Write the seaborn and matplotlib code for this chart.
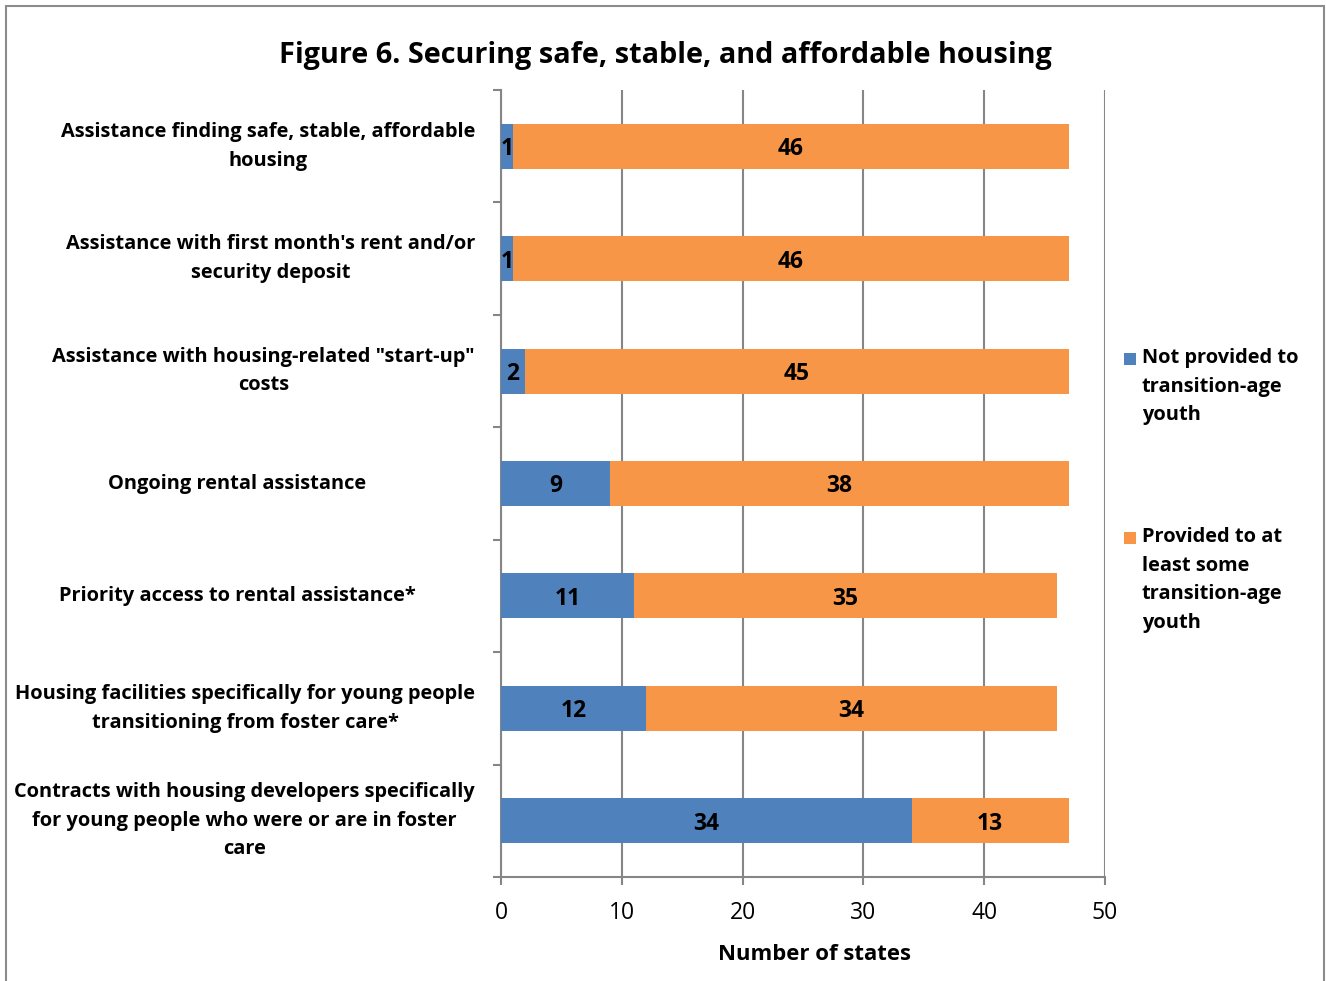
import matplotlib
matplotlib.use("Agg")
import matplotlib.pyplot as plt
from matplotlib.patches import Rectangle
import numpy as np
import pandas as pd
import seaborn as sns

# Housing supports for transition-age youth, counts of states
categories = [
    "Assistance finding safe, stable, affordable\nhousing",
    "Assistance with first month's rent and/or\nsecurity deposit",
    "Assistance with housing-related \"start-up\"\ncosts",
    "Ongoing rental assistance",
    "Priority access to rental assistance*",
    "Housing facilities specifically for young people\ntransitioning from foster care*",
    "Contracts with housing developers specifically\nfor young people who were or are in foster\ncare",
]
not_provided = [1, 1, 2, 9, 11, 12, 34]
provided = [46, 46, 45, 38, 35, 34, 13]
series_names = ["Not provided to\ntransition-age\nyouth",
                "Provided to at\nleast some\ntransition-age\nyouth"]
x_ticks = [0, 10, 20, 30, 40, 50]

BLUE = "#4F81BD"
ORANGE = "#F79646"
GRID = "#868686"

sns.set_theme(style="white")
plt.rcParams["font.family"] = ["Open Sans", "DejaVu Sans"]
plt.rcParams["text.color"] = "black"
plt.rcParams["axes.labelcolor"] = "black"
plt.rcParams["xtick.labelcolor"] = "black"

W, H = 1326, 981
fig = plt.figure(figsize=(W / 100, H / 100), dpi=100)

def fx(px):
    return px / W

def fy(py):
    return 1 - py / H

ax = fig.add_axes([fx(501), fy(877), fx(1105) - fx(501), fy(90) - fy(877)])

df = pd.DataFrame({
    "category": categories,
    "not_provided": not_provided,
    "provided": provided,
})
df["total"] = df["not_provided"] + df["provided"]

# Stacked bars: the full total in orange, the "not provided" part on top in blue
sns.barplot(data=df, y="category", x="total", orient="h", color=ORANGE,
            saturation=1, width=0.4, linewidth=0, ax=ax, zorder=3)
sns.barplot(data=df, y="category", x="not_provided", orient="h", color=BLUE,
            saturation=1, width=0.4, linewidth=0, ax=ax, zorder=3)

LBL = 14.4
VAL = 16.5
LS = 1.58

# Value labels centred in each segment
for i, (a, b) in enumerate(zip(df["not_provided"], df["provided"])):
    ax.text(a / 2, i, str(a), ha="center", va="center_baseline", fontsize=VAL,
            fontweight="bold", color="black", zorder=5)
    ax.text(a + b / 2, i, str(b), ha="center", va="center_baseline", fontsize=VAL,
            fontweight="bold", color="black", zorder=5)

ax.set_xlim(0, 50)
ax.set_ylim(len(categories) - 0.5, -0.5)
ax.set_xticks(x_ticks)
ax.set_xticklabels([str(t) for t in x_ticks], fontsize=16.5)
ax.xaxis.grid(True, color=GRID, linewidth=1.5, zorder=0)
ax.yaxis.grid(False)
ax.set_axisbelow(True)

for side in ["top", "right"]:
    ax.spines[side].set_visible(False)
for side in ["left", "bottom"]:
    ax.spines[side].set_color(GRID)
    ax.spines[side].set_linewidth(1.5)

ax.tick_params(axis="x", direction="out", length=6, width=1.5, color=GRID,
               bottom=True, pad=11, labelcolor="black")
# Category boundary ticks on the y axis
ax.set_yticks(np.arange(-0.5, len(categories) + 0.5, 1))
ax.set_yticklabels([])
ax.tick_params(axis="y", direction="out", length=6, width=1.5, color=GRID,
               left=True)
ax.set_ylabel("")
ax.set_xlabel("Number of states", fontsize=15.9, fontweight="bold")
ax.xaxis.set_label_coords((815 - 501) / (1105 - 501), -(954 - 877) / 787)
ax.xaxis.label.set_va("center")

# Category labels
ytrans = ax.get_yaxis_transform()
for i, lab in enumerate(categories):
    if "\n" in lab:
        ax.text(-26 / 604, i, lab, transform=ytrans, ha="right", va="center",
                multialignment="center", fontsize=LBL, fontweight="bold",
                linespacing=LS)
    else:
        ax.text((237 - 501) / 604, i, lab, transform=ytrans, ha="center",
                va="center", fontsize=LBL, fontweight="bold")

# Title
fig.text(fx(665), fy(55), "Figure 6. Securing safe, stable, and affordable housing",
         ha="center", va="center", fontsize=20.8, fontweight="bold")

# Legend: square markers aligned with the first text line
for color, name, top in [(BLUE, series_names[0], 359),
                         (ORANGE, series_names[1], 538)]:
    fig.patches.append(Rectangle((fx(1124), fy(top + 6)), fx(12), 12 / H,
                                 transform=fig.transFigure, facecolor=color,
                                 edgecolor="none"))
    fig.text(fx(1142), fy(top - 11), name, ha="left", va="top",
             fontsize=LBL, fontweight="bold", linespacing=LS)

# Outer frame
fig.patches.append(Rectangle((fx(6), fy(990)), fx(1324) - fx(6), fy(6) - fy(990),
                             transform=fig.transFigure, facecolor="none",
                             edgecolor="#8C8C8C", linewidth=1.5))

fig.savefig("out.png", dpi=100)
